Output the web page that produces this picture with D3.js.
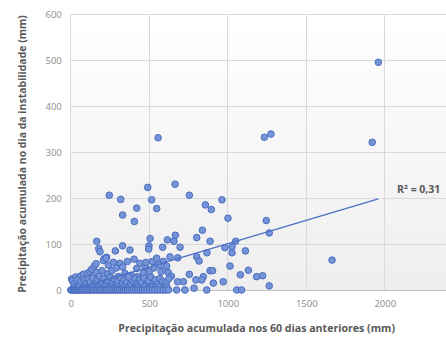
<!DOCTYPE html>
<html>
<head>
<meta charset="utf-8">
<script src="https://cdn.jsdelivr.net/npm/d3@7"></script>
<style>
  html, body { margin: 0; padding: 0; background: #ffffff; }
  svg { display: block; }
</style>
</head>
<body>
<svg id="chart" width="446" height="337"></svg>
<script>
// Accumulated rainfall over the previous 60 days (mm) for each instability event
const precip60 = [
  556, 1233, 1275, 1920, 1959,
  490, 664, 245, 318, 515, 755, 330, 420, 405, 547, 857, 895, 963, 1001, 1245, 1264, 1664,
  838, 666, 657, 615, 802, 887, 505, 498, 496, 330, 377, 284, 165, 178, 186, 213, 228, 585, 696, 632, 681, 802, 817, 867, 982, 1027, 1050, 1027, 1014, 971, 887, 903, 844, 908, 866, 797, 785, 755, 717, 681, 727, 674, 1057, 1088, 1080, 1131, 1112, 1184, 1222, 1264, 834,
  5, 30, 59, 80, 105, 122, 133, 150, 161, 165, 199, 207, 224, 233, 239, 262, 271, 290, 303, 313, 330, 345, 360, 385, 403, 420, 424, 440, 462, 473, 479, 500, 520, 530, 547, 560, 575, 590, 600, 610, 620, 640,
  10, 25, 40, 52, 65, 85, 98, 110, 125, 140, 155, 170, 182, 195, 210, 222, 235, 250, 262, 275, 288, 300, 315, 328, 340, 355, 368, 380, 395, 410, 425, 438, 452, 468, 482, 495, 510, 525, 538, 552, 568, 585, 600, 611, 625,
  18, 35, 55, 75, 95, 115, 138, 158, 178, 198, 218, 238, 258, 278, 298, 320, 342, 362, 383, 405, 428, 450, 472, 495, 518, 540, 565, 590, 612,
  0, 8, 16, 25, 33, 42, 50, 60, 68, 78, 88, 98, 108, 118, 128, 138, 148, 160, 170, 182, 192, 204, 215, 226, 238, 250, 262, 274, 286, 298, 310, 322, 335, 348, 360, 373, 386, 400, 414, 428, 442, 456, 470, 486, 502, 518, 535, 552, 570, 588, 605, 622
];

// Rainfall accumulated on the day of the instability (mm)
const precipDay = [
  331, 332, 339, 321, 495,
  223, 230, 206, 197, 196, 206, 163, 178, 149, 177, 185, 175, 196, 156, 151, 124, 65,
  130, 119, 106, 109, 114, 106, 112, 96, 89, 96, 87, 85, 106, 90, 83, 68, 71, 93, 93, 72, 70, 72, 63, 81, 92, 94, 106, 81, 52, 18, 42, 42, 29, 15, 0, 22, 4, 34, 18, 18, 0, 0, 0, 0, 33, 43, 85, 29, 31, 9, 22,
  24, 28, 30, 34, 36, 40, 45, 52, 57, 38, 42, 64, 69, 35, 54, 42, 60, 48, 29, 58, 50, 36, 62, 32, 67, 47, 29, 58, 36, 51, 60, 40, 62, 48, 69, 55, 40, 62, 45, 52, 38, 30,
  20, 15, 22, 12, 18, 22, 14, 24, 17, 26, 14, 22, 30, 16, 25, 12, 20, 28, 15, 24, 12, 20, 27, 14, 22, 16, 28, 12, 20, 25, 14, 22, 17, 26, 12, 20, 28, 15, 22, 12, 25, 18, 10, 18, 25,
  6, 5, 7, 4, 6, 5, 7, 4, 6, 5, 7, 4, 6, 5, 7, 4, 6, 5, 7, 4, 6, 5, 7, 4, 6, 5, 7, 4, 6,
  0, 0, 0, 0, 0, 0, 0, 0, 0, 0, 0, 0, 0, 0, 0, 0, 0, 0, 0, 0, 0, 0, 0, 0, 0, 0, 0, 0, 0, 0, 0, 0, 0, 0, 0, 0, 0, 0, 0, 0, 0, 0, 0, 0, 0, 0, 0, 0, 0, 0, 0, 0
];

const xGrid = [0, 500, 1000, 1500, 2000, 2500];
const xTickLabels = [0, 500, 1000, 1500, 2000];
const yTicks = [0, 100, 200, 300, 400, 500, 600];

// Linear trendline fitted to the events
const trendSlope = 0.1015;
const trendIntercept = -0.8;
const trendLabel = "R² = 0,31";

const xTitle = "Precipitação acumulada nos 60 dias anteriores (mm)";
const yTitle = "Precipitação acumulada no dia da instabilidade (mm)";

const points = precip60.map((v, i) => ({ x: v, y: precipDay[i] }));

const svg = d3.select("#chart");
const plot = { left: 70.8, right: 463.3, top: 14, bottom: 290 };

const x = d3.scaleLinear().domain([0, 2500]).range([plot.left, plot.right]);
const y = d3.scaleLinear().domain([0, 600]).range([plot.bottom, plot.top]);

// Plot-area background with a faint vertical gradient
const defs = svg.append("defs");
const grad = defs.append("linearGradient")
  .attr("id", "plotBg").attr("x1", 0).attr("y1", 0).attr("x2", 0).attr("y2", 1);
grad.append("stop").attr("offset", "0%").attr("stop-color", "#ffffff");
grad.append("stop").attr("offset", "100%").attr("stop-color", "#eeeeee");

svg.append("rect")
  .attr("x", plot.left).attr("y", plot.top)
  .attr("width", plot.right - plot.left).attr("height", plot.bottom - plot.top)
  .attr("fill", "url(#plotBg)");

// Gridlines
const grid = svg.append("g").attr("stroke", "#d9d9d9").attr("stroke-width", 1).attr("shape-rendering", "crispEdges");
grid.selectAll(".hg").data(yTicks.filter(d => d > 0)).join("line")
  .attr("x1", plot.left).attr("x2", plot.right)
  .attr("y1", d => y(d)).attr("y2", d => y(d));
grid.selectAll(".vg").data(xGrid).join("line")
  .attr("y1", plot.top).attr("y2", plot.bottom)
  .attr("x1", d => x(d)).attr("x2", d => x(d));

// Baseline
svg.append("line")
  .attr("x1", plot.left).attr("x2", plot.right)
  .attr("y1", y(0)).attr("y2", y(0))
  .attr("stroke", "#bfbfbf").attr("shape-rendering", "crispEdges");

// Axes (labels only)
const tickFont = "'Open Sans', 'Liberation Sans', sans-serif";
const yAxis = svg.append("g")
  .attr("transform", `translate(${plot.left},0)`)
  .call(d3.axisLeft(y).tickValues(yTicks).tickSize(0).tickPadding(9).tickFormat(d3.format("d")));
const xAxis = svg.append("g")
  .attr("transform", `translate(0,${plot.bottom})`)
  .call(d3.axisBottom(x).tickValues(xTickLabels).tickSize(0).tickPadding(10).tickFormat(d3.format("d")));
[xAxis, yAxis].forEach(g => {
  g.select(".domain").remove();
  g.selectAll("text").attr("fill", "#8c8c8c").style("font-family", tickFont).style("font-size", "9.5px");
});

// Points
svg.append("g").selectAll("circle").data(points).join("circle")
  .attr("cx", d => x(d.x)).attr("cy", d => y(d.y)).attr("r", 3.3)
  .attr("fill", "#7594d8").attr("stroke", "#4a6cc0").attr("stroke-width", 1);

// Trendline across the range of the data
const xExt = d3.extent(precip60);
svg.append("line")
  .attr("x1", x(xExt[0])).attr("y1", y(trendSlope * xExt[0] + trendIntercept))
  .attr("x2", x(xExt[1])).attr("y2", y(trendSlope * xExt[1] + trendIntercept))
  .attr("stroke", "#4a6fc4").attr("stroke-width", 1.2);

const titleFont = "'Open Sans', 'Liberation Sans', sans-serif";
svg.append("text")
  .attr("x", 397).attr("y", 193)
  .attr("fill", "#595959").style("font-family", titleFont).style("font-weight", "bold").style("font-size", "10.5px")
  .text(trendLabel);

// Axis titles sized to span the plot
function fitText(sel, target) {
  const w = sel.node().getComputedTextLength();
  const fs = parseFloat(sel.style("font-size"));
  sel.style("font-size", (fs * target / w).toFixed(2) + "px");
}
const xt = svg.append("text")
  .attr("x", 256.7).attr("y", 332).attr("text-anchor", "middle")
  .attr("fill", "#595959").style("font-family", titleFont).style("font-weight", "bold").style("font-size", "11px")
  .text(xTitle);
fitText(xt, 277);

const yt = svg.append("text")
  .attr("transform", "translate(26,154) rotate(-90)").attr("text-anchor", "middle")
  .attr("fill", "#595959").style("font-family", titleFont).style("font-weight", "bold").style("font-size", "11px")
  .text(yTitle);
fitText(yt, 278);
</script>
</body>
</html>
